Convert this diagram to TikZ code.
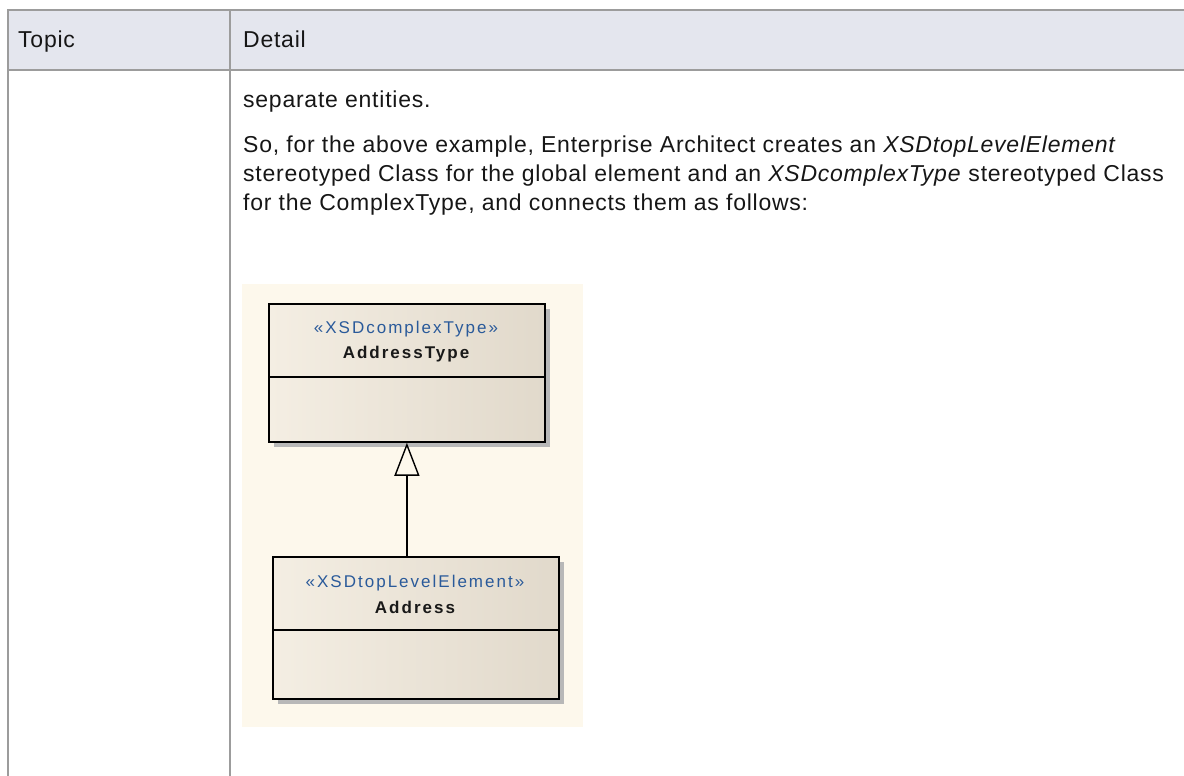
\documentclass[tikz,border=0pt]{standalone}
\usepackage{fontspec}
\setmainfont{Liberation Sans}
\newfontfamily\bodyfont[LetterSpace=3.3]{Liberation Sans}
\newfontfamily\diagfont[LetterSpace=11.8]{Liberation Sans}
\usetikzlibrary{arrows.meta,shadows}
\definecolor{gridline}{HTML}{9C9C9C}
\definecolor{headfill}{HTML}{E4E6EE}
\definecolor{diagbg}{HTML}{FDF8EC}
\definecolor{boxleft}{HTML}{F4EEE3}
\definecolor{boxright}{HTML}{E1D9CB}
\definecolor{stereoblue}{HTML}{2A5A9A}
\definecolor{txt}{HTML}{161616}
\tikzset{
  gridrule/.style={draw=gridline, line width=2.4pt},
  bodytext/.style={anchor=base west, inner sep=0pt, text=txt, font=\bodyfont\fontsize{23}{29}\selectfont},
  classbox/.style={draw=black, line width=1.8pt, left color=boxleft, right color=boxright, shading angle=90,
    anchor=north west, inner sep=0pt,
    drop shadow={shadow xshift=5pt, shadow yshift=-5pt, fill=black!28, opacity=1}},
  stereo/.style={anchor=base, inner sep=0pt, text=stereoblue, font=\diagfont\fontsize{17}{19}\selectfont},
  cname/.style={anchor=base, inner sep=0pt, text=black!90, font=\diagfont\bfseries\fontsize{17}{19}\selectfont},
  compline/.style={draw=black, line width=1.8pt},
  generalization/.style={draw=black, line width=1.6pt, -{Triangle[open, length=33pt, width=25pt, line width=1.4pt]}}
}
\begin{document}
\begin{tikzpicture}[x=1pt, y=-1pt]
\useasboundingbox (0,0) rectangle (1184,776);
% table
\fill[headfill] (8,10) rectangle (1184,70);
\draw[gridrule] (1184,10) -- (8,10) -- (8,776);
\draw[gridrule] (8,70) -- (1184,70);
\draw[gridrule] (230,10) -- (230,776);
\node[bodytext] (topic) at (18,48) {Topic};
\node[bodytext] (detail) at (243,48) {Detail};
% body text
\node[bodytext] (l0) at (243,107) {separate entities.};
\node[bodytext] (l1) at (243,152) {So, for the above example, Enterprise Architect creates an \textit{XSDtopLevelElement}};
\node[bodytext] (l2) at (243,181) {stereotyped Class for the global element and an \textit{XSDcomplexType} stereotyped Class};
\node[bodytext] (l3) at (243,210) {for the ComplexType, and connects them as follows:};
% diagram background
\fill[diagbg] (242,284) rectangle (583,727);
% classes
\node[classbox, minimum width=276pt, minimum height=138pt] (ct) at (268,303) {};
\draw[compline] ([yshift=-74pt]ct.north west) -- ([yshift=-74pt]ct.north east);
\node[stereo] (ctst) at (406,333) {«XSDcomplexType»};
\node[cname] (ctnm) at (406,358) {AddressType};
\node[classbox, minimum width=286pt, minimum height=142pt] (el) at (272,556) {};
\draw[compline] ([yshift=-74pt]el.north west) -- ([yshift=-74pt]el.north east);
\node[stereo] (elst) at (415,587) {«XSDtopLevelElement»};
\node[cname] (elnm) at (415,613) {Address};
% generalization
\draw[generalization] (ct.south |- el.north) -- (ct.south);
\end{tikzpicture}
\end{document}
